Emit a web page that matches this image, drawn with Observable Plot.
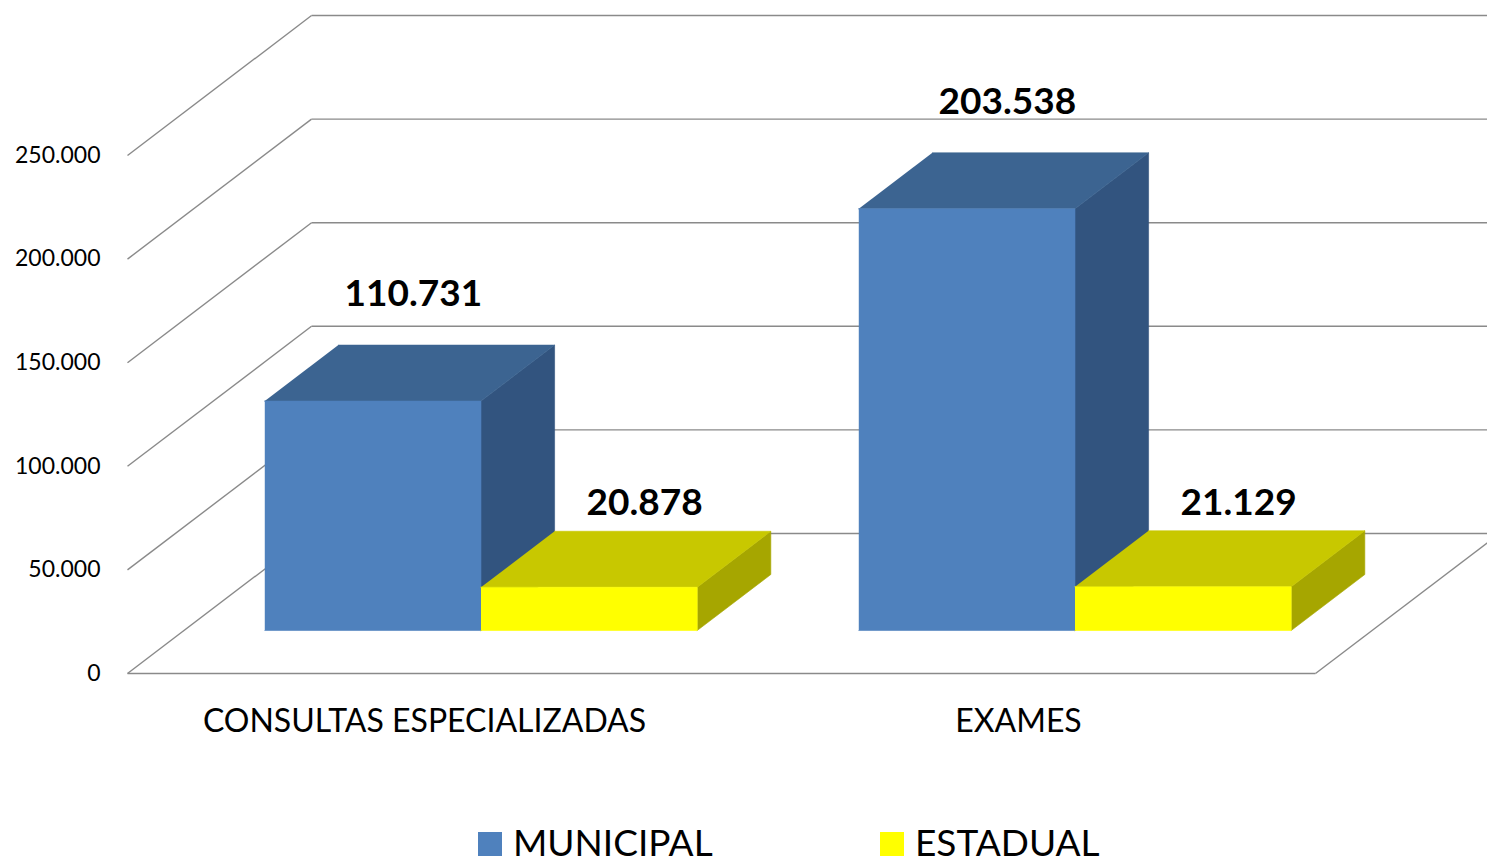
<!DOCTYPE html>
<html>
<head>
<meta charset="utf-8">
<script src="https://cdn.jsdelivr.net/npm/d3@7"></script>
<script src="https://cdn.jsdelivr.net/npm/@observablehq/plot@0.6"></script>
<style>
  html, body { margin: 0; padding: 0; background: #fff; overflow: hidden; }
  body { font-family: Lato, "Open Sans", sans-serif; width: 1487px; height: 864px; position: relative; }
  .sw { position: absolute; width: 24px; height: 24px; }
  .lt { position: absolute; font-size: 37px; line-height: 30px; color: #000; white-space: nowrap; }
</style>
</head>
<body>
<div id="chart"></div>
<script>
// ---- data ----
const categories = ["CONSULTAS ESPECIALIZADAS", "EXAMES"];
const seriesNames = ["MUNICIPAL", "ESTADUAL"];
const municipal = [110731, 203538];
const estadual = [20878, 21129];
const yTicks = [0, 50000, 100000, 150000, 200000, 250000];

// ---- styles ----
const palette = {
  MUNICIPAL: {front: "#4F81BD", top: "#3C6491", side: "#32547F"},
  ESTADUAL:  {front: "#FFFF00", top: "#C8C800", side: "#A6A600"}
};
const grid = "#8A8A8A";
const fmt = d3.formatLocale({decimal: ",", thousands: ".", grouping: [3], currency: ["", ""]}).format(",d");

// 3D projection parameters (depth expressed in scale units)
const DX = 0.3098;   // x-units for full depth
const DY = 67570;    // value-units for full depth
const D0 = 0.307, D1 = 0.707; // bar depth slab
const BW = 0.364;    // bar width in category units
const P = (c, v, d) => ({x: c + d * DX, y: v + d * DY});

// build bar faces
const faces = {MUNICIPAL: {front: [], top: [], side: []}, ESTADUAL: {front: [], top: [], side: []}};
const labels = [];
const seriesValues = {MUNICIPAL: municipal, ESTADUAL: estadual};
categories.forEach((cat, i) => {
  seriesNames.forEach((s, si) => {
    const v = seriesValues[s][i];
    const x0 = si === 0 ? i - BW : i;
    const x1 = si === 0 ? i : i + BW;
    const id = s + i;
    [[x0,0,D0],[x1,0,D0],[x1,v,D0],[x0,v,D0]].forEach(p => faces[s].front.push({id, ...P(...p)}));
    [[x0,v,D0],[x1,v,D0],[x1,v,D1],[x0,v,D1]].forEach(p => faces[s].top.push({id, ...P(...p)}));
    [[x1,0,D0],[x1,0,D1],[x1,v,D1],[x1,v,D0]].forEach(p => faces[s].side.push({id, ...P(...p)}));
    labels.push({series: s, ...P((x0 + x1) / 2, v, 0.5), v});
  });
});

const marks = [
  // left wall gridlines
  Plot.link(yTicks, {x1: -0.5, y1: d => d, x2: -0.5 + DX, y2: d => d + DY, stroke: grid, strokeWidth: 1.4}),
  // back wall gridlines
  Plot.link(yTicks, {x1: -0.5 + DX, y1: d => d + DY, x2: 1.5 + DX, y2: d => d + DY, stroke: grid, strokeWidth: 1.4}),
  // floor front and right edges
  Plot.link([0], {x1: -0.5, y1: 0, x2: 1.5, y2: 0, stroke: grid, strokeWidth: 1.4}),
  Plot.link([0], {x1: 1.5, y1: 0, x2: 1.5 + DX, y2: DY, stroke: grid, strokeWidth: 1.4}),
];
seriesNames.forEach(s => {
  ["side", "top", "front"].forEach(f => {
    marks.push(Plot.line(faces[s][f], {x: "x", y: "y", z: "id", fill: palette[s][f], stroke: palette[s][f], strokeWidth: 0.6, curve: "linear"}));
  });
});
marks.push(
  Plot.text(labels.filter(d => d.series === "MUNICIPAL"), {x: "x", y: "y", text: d => fmt(d.v), dx: 5, dy: -80, fontSize: 37, fontWeight: "bold", fill: "#000"}),
  Plot.text(labels.filter(d => d.series === "ESTADUAL"), {x: "x", y: "y", text: d => fmt(d.v), dx: 20, dy: -57, fontSize: 37, fontWeight: "bold", fill: "#000"}),
  Plot.axisY({ticks: yTicks, tickFormat: fmt, tickSize: 0, tickPadding: 27, fontSize: 23, label: null}),
  Plot.axisX({ticks: [0, 1], tickFormat: i => categories[i], tickSize: 0, tickPadding: 36, fontSize: 32, label: null})
);

const chart = Plot.plot({
  width: 1487,
  height: 816,
  marginLeft: 127,
  marginRight: 172,
  marginTop: 155,
  marginBottom: 143,
  x: {type: "linear", domain: [-0.5, 1.5]},
  y: {type: "linear", domain: [0, 250000]},
  style: {fontFamily: "Lato, 'Open Sans', sans-serif", color: "#000", background: "#fff"},
  marks
});
document.getElementById("chart").appendChild(chart);

// legend below the chart
const legendItems = [
  {name: "MUNICIPAL", color: palette.MUNICIPAL.front, sx: 478, tx: 513},
  {name: "ESTADUAL", color: palette.ESTADUAL.front, sx: 880, tx: 915}
];
legendItems.forEach(it => {
  const sw = document.createElement("div");
  sw.className = "sw";
  sw.style.left = it.sx + "px";
  sw.style.top = "832px";
  sw.style.background = it.color;
  document.body.appendChild(sw);
  const t = document.createElement("div");
  t.className = "lt";
  t.style.left = it.tx + "px";
  t.style.top = "827px";
  t.textContent = it.name;
  document.body.appendChild(t);
});
</script>
</body>
</html>
